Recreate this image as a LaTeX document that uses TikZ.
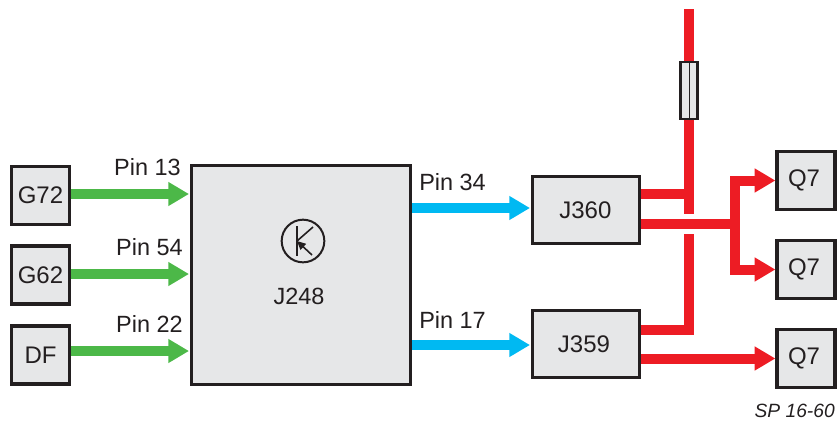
\documentclass[tikz,border=0pt]{standalone}
\usepackage{fontspec}
\setmainfont{Liberation Sans}
\usetikzlibrary{arrows.meta}
\definecolor{boxgray}{HTML}{E6E7E8}
\definecolor{boxline}{HTML}{231F20}
\definecolor{sigred}{HTML}{ED1C24}
\definecolor{siggreen}{HTML}{4CB848}
\definecolor{sigblue}{HTML}{00B9F2}
\begin{document}
\begin{tikzpicture}[>={Triangle[length=15.5pt,width=17pt]},x=0.75pt,y=-0.75pt,
    box/.style={draw=boxline,fill=boxgray,line width=2.4pt,text=boxline,font=\fontsize{18}{20}\selectfont},
    small/.style={box,minimum width=43.5pt,minimum height=43.5pt,inner sep=0pt},
    middle/.style={box,minimum width=80pt,minimum height=50.5pt,inner sep=0pt},
    pin/.style={text=boxline,font=\fontsize{17.6}{20}\selectfont,inner sep=0pt},
    wire/.style={line width=7.5pt,sigred,line cap=butt,line join=miter}]
    \useasboundingbox (0,0) rectangle (838,421);
    \node[box,minimum width=164pt,minimum height=164pt] (j248) at (301,275) {};
    \node[pin] (j248text) at (299,296) {J248};
    \node[small] (g72) at (40.5,195.5) {G72};
    \node[small] (g62) at (40.5,275) {G62};
    \node[small] (df) at (40.5,355) {DF};
    \node[middle] (j360) at (586,210) {\hspace*{-1pt}J360};
    \node[middle] (j359) at (586,344) {\hspace*{-3pt}J359};
    \node[small] (q1) at (806,180.5) {\hspace*{-3pt}\raisebox{-1.5pt}{Q7}};
    \node[small] (q2) at (806,269.5) {\hspace*{-3pt}\raisebox{-1.5pt}{Q7}};
    \node[small] (q3) at (806,358.5) {\hspace*{-3pt}\raisebox{-1.5pt}{Q7}};
    % input and output pins
    \coordinate (in13) at (189,194);
    \coordinate (in54) at (189,274);
    \coordinate (in22) at (189,351);
    \coordinate (out34) at (530,208);
    \coordinate (out17) at (530,345);
    \draw[->,line width=7.5pt,siggreen] (g72.east |- in13) -- (in13);
    \draw[->,line width=7.5pt,siggreen] (g62.east |- in54) -- (in54);
    \draw[->,line width=7.5pt,siggreen] (df.east |- in22) -- (in22);
    \draw[->,line width=7.5pt,sigblue] (j248.east |- out34) -- (out34);
    \draw[->,line width=7.5pt,sigblue] (j248.east |- out17) -- (out17);
    \node[pin,anchor=east] (p13) at (181,167) {Pin 13};
    \node[pin,anchor=east] (p54) at (183,247) {Pin 54};
    \node[pin,anchor=east] (p22) at (183,324) {Pin 22};
    \node[pin,anchor=west] (p34) at (419,182) {Pin 34};
    \node[pin,anchor=west] (p17) at (419,320) {Pin 17};
    % red supply lines
    \coordinate (top) at (689,9);
    \coordinate (upper) at (689,214);
    \coordinate (lower) at (689,234);
    \coordinate (branch) at (734.5,224);
    \draw[wire] (top) -- (upper);
    \draw[wire] (j360.east |- 0,194) -- (689,194);
    \draw[wire] (j360.east |- branch) -- (branch);
    \draw[wire] (j359.east |- 0,329.5) -| (lower);
    \draw[wire,->] (branch) |- (q1.west);
    \draw[wire,->] (branch) |- (q2.west);
    \draw[wire,->] (j359.east |- q3.west) -- (q3.west);
    % fuse
    \node[draw=boxline,fill=boxgray,line width=1.9pt,minimum width=13pt,minimum height=42.5pt,inner sep=0pt] (fuse) at (689,90.5) {};
    \draw[boxline,line width=0.6pt] (fuse.north) -- (fuse.south);
    % transistor symbol
    \node[circle,draw=boxline,line width=1.5pt,minimum size=32pt,inner sep=0pt] (tr) at (303,241) {};
    \coordinate (base) at (297,241);
    \coordinate (coll) at (313,227);
    \coordinate (emit) at (312,255);
    \draw[boxline,line width=1.2pt] (297,226) -- (297,256);
    \draw[boxline,line width=1.2pt] (base) -- (coll);
    \draw[boxline,line width=1.2pt,-{Triangle[length=6.5pt,width=6pt]}] (emit) -- (base);
    \node[pin,anchor=east,font=\fontsize{14.4}{16}\selectfont\itshape] (sp) at (835,411) {SP 16-60};
\end{tikzpicture}
\end{document}
